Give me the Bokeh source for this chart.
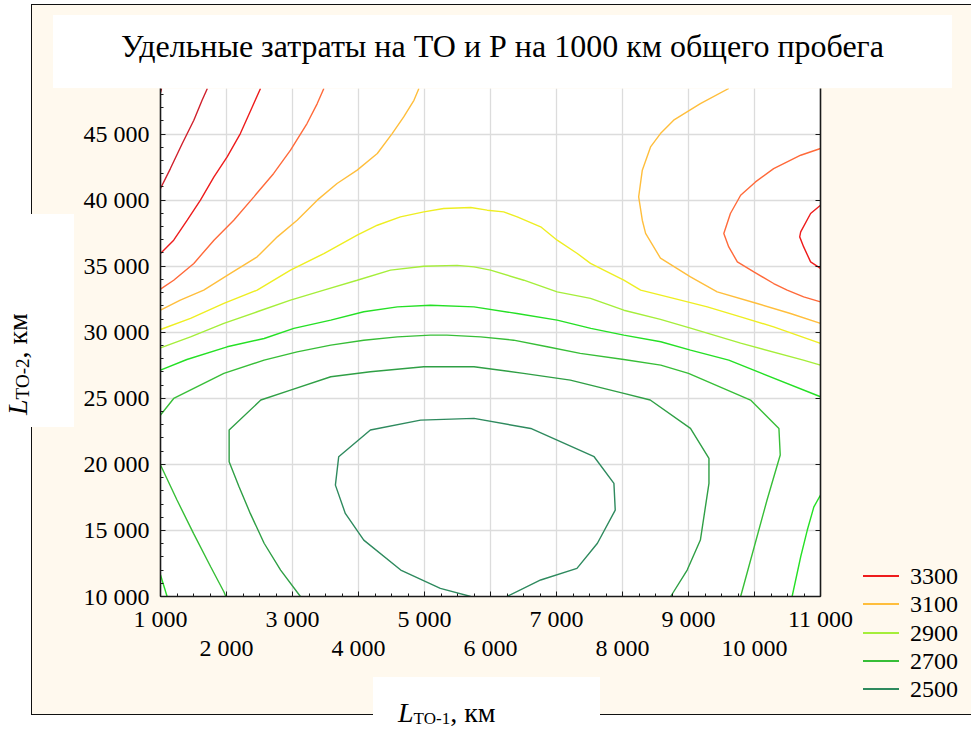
from bokeh.embed import file_html
from bokeh.models import (Column, Div, Grid, LinearAxis, Range1d,
                          SingleIntervalTicker)
from bokeh.plotting import figure
from bokeh.resources import INLINE

# ---------------------------------------------------------------- data
title_text = "Удельные затраты на ТО и Р на 1000 км общего пробега"
x_title_sub, y_title_sub = "ТО-1", "ТО-2"
unit_text = ", км"

x_ticks = [1000, 2000, 3000, 4000, 5000, 6000, 7000, 8000, 9000, 10000, 11000]
x_tick_labels = ["1 000", "2 000", "3 000", "4 000", "5 000", "6 000",
                 "7 000", "8 000", "9 000", "10 000", "11 000"]
y_ticks = [10000, 15000, 20000, 25000, 30000, 35000, 40000, 45000]
y_tick_labels = ["10 000", "15 000", "20 000", "25 000",
                 "30 000", "35 000", "40 000", "45 000"]

# contour levels (cost per 1000 km) and their line colours
levels = [2500, 2600, 2700, 2800, 2900, 3000, 3100, 3200, 3300, 3400, 3500]
level_colors = ["#2E8A5E", "#2F9F45", "#37BE37", "#25E025", "#A5EE3A",
                "#EEEE22", "#FFBE3C", "#FF6A3A", "#EE1C1C", "#D0202C", "#B4141E"]
legend_levels = [3300, 3100, 2900, 2700, 2500]

# isolines: L_TO-1 (x) and L_TO-2 (y) coordinates, km
c2500_x = [5700, 5240, 4640, 4080, 3800, 3650, 3700, 4180, 4940, 5750, 6610,
           7570, 7870, 7890, 7620, 7310, 6760, 6250]
c2500_y = [10000, 10620, 12000, 14270, 16290, 18430, 20580, 22600, 23350, 23480,
           22720, 20580, 18560, 16540, 14030, 12130, 11250, 10000]

c2600_x = [3120, 2820, 2570, 2360, 2190, 2040, 2040, 2520, 2970, 3580, 4180, 4990,
           5750, 6500, 7210, 8020, 8420, 9030, 9310, 9310, 9180, 8980, 8730]
c2600_y = [10000, 12000, 14030, 16290, 18310, 20200, 22600, 24870, 25620, 26630,
           27010, 27390, 27390, 26890, 26380, 25370, 24870, 22720, 20460, 18560,
           14270, 12000, 10000]

c2700a_x = [1000, 1200, 1960, 2570, 3070, 3580, 4080, 4590, 5090, 5340, 5850, 6350,
            6860, 7360, 8020, 8580, 9000, 9940, 10370, 10390, 10190, 9790]
c2700a_y = [23730, 24990, 26890, 27890, 28520, 29030, 29400, 29650, 29780, 29780,
            29650, 29400, 28900, 28400, 27940, 27510, 26890, 24870, 22720, 20710,
            17300, 10000]
c2700b_x = [1000, 1250, 1500, 1760, 1960, 1990]
c2700b_y = [19950, 17300, 14780, 12250, 10360, 10000]

c2800a_x = [1000, 1400, 2010, 2570, 3020, 3580, 4080, 4590, 5090, 5750, 6400, 7010,
            7520, 8020, 8580, 9030, 9610, 11000]
c2800a_y = [27140, 27940, 28900, 29530, 30290, 30920, 31550, 31920, 32050, 31920,
            31420, 30920, 30290, 29780, 29280, 28650, 27890, 25120]
c2800b_x = [1000, 1100]
c2800b_y = [11630, 10000]
c2800c_x = [10570, 10700, 10800, 10900, 11000]
c2800c_y = [10000, 13010, 15030, 16790, 17680]

c2900_x = [1000, 1455, 1960, 2465, 2970, 3475, 3980, 4485, 4990, 5495, 5750, 6000,
           6505, 7010, 7515, 8020, 8575, 9030, 9790, 10740, 11000]
c2900_y = [28820, 29650, 30670, 31550, 32430, 33190, 33940, 34700, 35000, 35060,
           34950, 34700, 33940, 33060, 32560, 31670, 30970, 30310, 29180, 27890,
           27510]

c3000_x = [1000, 1455, 1960, 2465, 2970, 3475, 3980, 4285, 4635, 4990, 5290, 5700,
           5950, 6200, 6405, 6760, 7010, 7315, 7515, 7770, 8020, 8275, 8775, 9285,
           9790, 10290, 11000]
c3000_y = [30210, 31050, 32180, 33190, 34700, 35960, 37350, 38100, 38730, 39110,
           39370, 39440, 39240, 39110, 38730, 37980, 36970, 35960, 35210, 34570,
           33940, 33190, 32560, 31920, 31170, 30410, 29160]

c3100a_x = [1000, 1300, 1655, 2060, 2465, 2770, 3070, 3375, 3675, 3980, 4285, 4510,
            4685, 4840, 4915]
c3100a_y = [31670, 32430, 33190, 34450, 35710, 37220, 38480, 40000, 41260, 42270,
            43530, 45040, 46300, 47560, 48450]
c3100b_x = [9610, 9180, 8775, 8575, 8425, 8300, 8245, 8300, 8350, 8575, 9030, 9435,
            10040, 10545, 11000]
c3100b_y = [48450, 47310, 46050, 45040, 44030, 42270, 40250, 38480, 37480, 35610,
            34190, 33060, 32180, 31420, 30670]

c3200a_x = [1000, 1200, 1505, 1810, 2110, 2415, 2715, 2970, 3220, 3375, 3475]
c3200a_y = [33260, 33940, 35210, 36970, 38480, 40250, 42020, 43780, 45800, 47310,
            48450]
c3200b_x = [11000, 10700, 10290, 10015, 9790, 9635, 9535, 9610, 9740, 9990, 10290,
            10495, 10745, 11000]
c3200b_y = [43910, 43400, 42390, 41380, 40370, 38990, 37480, 36460, 35330, 34570,
            33690, 33190, 32680, 32300]

c3300a_x = [1000, 1200, 1405, 1605, 1810, 2010, 2210, 2390, 2515]
c3300a_y = [35960, 36970, 38480, 40000, 41760, 43270, 45040, 47050, 48450]
c3300b_x = [11000, 10850, 10700, 10685, 10745, 10850, 11000]
c3300b_y = [39620, 38990, 37600, 37220, 36460, 35330, 34830]

c3400_x = [1000, 1150, 1330, 1505, 1630, 1710]
c3400_y = [40880, 42390, 44290, 46050, 47560, 48450]

c3500_x = [1000, 1015]
c3500_y = [48150, 48450]

isolines = {
    2500: [(c2500_x, c2500_y)],
    2600: [(c2600_x, c2600_y)],
    2700: [(c2700a_x, c2700a_y), (c2700b_x, c2700b_y)],
    2800: [(c2800a_x, c2800a_y), (c2800b_x, c2800b_y), (c2800c_x, c2800c_y)],
    2900: [(c2900_x, c2900_y)],
    3000: [(c3000_x, c3000_y)],
    3100: [(c3100a_x, c3100a_y), (c3100b_x, c3100b_y)],
    3200: [(c3200a_x, c3200a_y), (c3200b_x, c3200b_y)],
    3300: [(c3300a_x, c3300a_y), (c3300b_x, c3300b_y)],
    3400: [(c3400_x, c3400_y)],
    3500: [(c3500_x, c3500_y)],
}

# ---------------------------------------------------------------- layout
W, H = 971, 731
F_LEFT, F_RIGHT, F_TOP, F_BOTTOM = 160, 820, 88, 596   # plot frame, page px
CREAM = "#FFF9EE"
SERIF = "Liberation Serif"
TICK_PX = "24px"


def pinned(left, top):
    return {"position": "absolute", "left": f"{left}px", "top": f"{top}px"}


p = figure(width=W, height=H, output_backend="svg", toolbar_location=None,
           x_range=Range1d(x_ticks[0], x_ticks[-1]),
           y_range=Range1d(10000, 48450),
           x_axis_location=None, y_axis_location=None,
           min_border_left=F_LEFT, min_border_right=W - F_RIGHT,
           min_border_top=F_TOP, min_border_bottom=H - F_BOTTOM)
p.background_fill_color = "white"
p.border_fill_color = None
p.outline_line_color = None
p.styles = pinned(0, 0)

p.add_layout(Grid(dimension=0, ticker=SingleIntervalTicker(interval=1000),
                  grid_line_color="#DCDCDC", grid_line_width=1.3))
p.add_layout(Grid(dimension=1, ticker=SingleIntervalTicker(interval=5000),
                  grid_line_color="#DCDCDC", grid_line_width=1.3))


def style_axis(ax):
    ax.axis_line_color = "#1A1A1A"
    ax.axis_line_width = 1.6
    ax.major_tick_line_color = "#1A1A1A"
    ax.minor_tick_line_color = "#1A1A1A"
    ax.major_tick_in = 5
    ax.major_tick_out = 0
    ax.minor_tick_in = 3
    ax.minor_tick_out = 0
    ax.major_label_text_font = SERIF
    ax.major_label_text_font_size = TICK_PX
    ax.major_label_text_color = "black"


# x axis: odd thousands on the first row, even thousands on the second
pairs = list(zip(x_ticks, x_tick_labels))
row1 = {t: (lab if i % 2 == 0 else "") for i, (t, lab) in enumerate(pairs)}
row2 = {t: lab for i, (t, lab) in enumerate(pairs) if i % 2 == 1}

xa1 = LinearAxis(ticker=SingleIntervalTicker(interval=1000, num_minor_ticks=4),
                 major_label_overrides=row1, major_label_standoff=9)
style_axis(xa1)
p.add_layout(xa1, "below")

xa2 = LinearAxis(ticker=SingleIntervalTicker(interval=2000, num_minor_ticks=0),
                 major_label_overrides=row2, major_label_standoff=0)
style_axis(xa2)
xa2.axis_line_color = None
xa2.major_tick_line_color = None
xa2.minor_tick_line_color = None
p.add_layout(xa2, "below")

ya = LinearAxis(ticker=SingleIntervalTicker(interval=5000, num_minor_ticks=5),
                major_label_overrides=dict(zip(y_ticks, y_tick_labels)),
                major_label_standoff=11)
style_axis(ya)
p.add_layout(ya, "left")

ya_r = LinearAxis(ticker=SingleIntervalTicker(interval=5000, num_minor_ticks=0),
                  major_label_overrides={t: "" for t in y_ticks},
                  major_label_standoff=0)
style_axis(ya_r)
ya_r.major_label_text_font_size = "0px"
p.add_layout(ya_r, "right")

# isolines
for lev, col in zip(levels, level_colors):
    segs = isolines[lev]
    p.multi_line(xs=[s[0] for s in segs], ys=[s[1] for s in segs],
                 line_color=col, line_width=1.4)

# ---------------------------------------------------------------- page sheet
FONT = f"font-family:'{SERIF}','Times New Roman',serif;color:#000;"


def block(left, top, width, height, color):
    return (f'<div style="position:absolute;left:{left}px;top:{top}px;'
            f'width:{width}px;height:{height}px;background:{color};"></div>')


def axis_title(sub, sub_px, left, top, rotate):
    turn = "transform-origin:0 0;transform:rotate(-90deg);" if rotate else ""
    return (f'<div style="position:absolute;left:{left}px;top:{top}px;{turn}{FONT}'
            f'font-size:28px;line-height:28px;white-space:nowrap;">'
            f'<i>L</i><span style="font-size:{sub_px}px;position:relative;top:2px;">'
            f'{sub}</span>{unit_text}</div>')


def legend_rows(left, first_mid, pitch):
    rows = []
    for i, lev in enumerate(legend_levels):
        mid = first_mid + i * pitch
        col = level_colors[levels.index(lev)]
        rows.append(block(left, round(mid - 1), 36, 2, col))
        rows.append(f'<div style="position:absolute;left:{left + 47}px;'
                    f'top:{mid - 12:.1f}px;{FONT}font-size:24px;line-height:24px;'
                    f'white-space:nowrap;">{lev}</div>')
    return "".join(rows)


sheet = "".join([
    # cream sheet with its black frame
    f'<div style="position:absolute;left:31px;top:4px;width:1000px;height:711px;'
    f'background:{CREAM};border:1.5px solid #111;box-sizing:border-box;"></div>',
    block(53, 15, 899, 73, "#FFFFFF"),       # title plate
    block(0, 214, 74, 213, "#FFFFFF"),       # y title plate
    block(373, 677, 227, 60, "#FFFFFF"),     # x title plate
    f'<div style="position:absolute;left:53px;top:30px;width:899px;text-align:center;'
    f'{FONT}font-size:32px;line-height:32px;white-space:nowrap;">{title_text}</div>',
    axis_title(x_title_sub, 17, 398, 698.5, False),
    axis_title(y_title_sub, 19, 3.5, 415, True),
    legend_rows(863, 576, 28.25),
])
page = Div(text=(f'<div style="position:relative;width:{W}px;height:{H}px;'
                 f'background:#FFFFFF;overflow:hidden;{FONT}">{sheet}</div>'),
           width=W, height=H, margin=0, styles=pinned(0, 0))

root = Column(children=[page, p], width=W, height=H)
open("out.html", "w").write(file_html(root, INLINE))
